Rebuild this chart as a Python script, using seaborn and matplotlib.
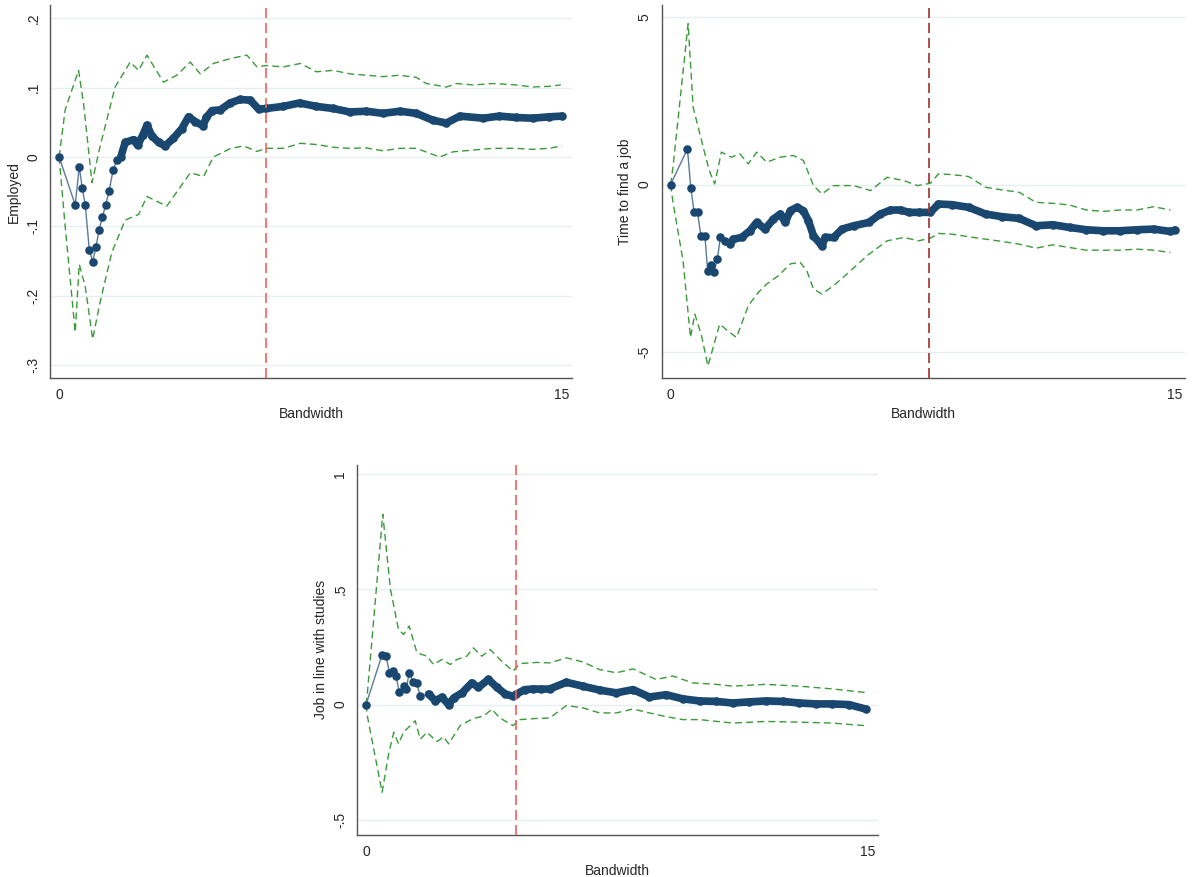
import matplotlib
matplotlib.use("Agg")
import matplotlib.pyplot as plt
import seaborn as sns
import numpy as np

sns.set_style("white")
plt.rcParams['font.family'] = ['Liberation Sans', 'DejaVu Sans']

# ---- Panel 1: Employed ----
p1_x = [0, 0.48, 0.6, 0.69, 0.78, 0.9, 1.0, 1.1, 1.19, 1.29, 1.39, 1.49, 1.61, 1.72, 1.84, 1.97,
        2.22, 2.34, 2.5, 2.62, 2.77, 2.97, 3.16, 3.41, 3.66, 3.86, 4.06, 4.29, 4.39, 4.56, 4.81,
        5.1, 5.4, 5.7, 5.95, 6.18, 6.68, 7.17, 7.67, 8.17, 8.67, 9.16, 9.66, 10.16, 10.65, 11.15,
        11.55, 11.95, 12.65, 13.13, 13.62, 14.12, 14.62, 15.0]
p1_y = [0, -0.069, -0.014, -0.045, -0.069, -0.134, -0.151, -0.13, -0.105, -0.087, -0.069, -0.049,
        -0.019, -0.005, 0.0, 0.021, 0.025, 0.017, 0.032, 0.046, 0.030, 0.021, 0.016, 0.027, 0.041,
        0.058, 0.051, 0.045, 0.057, 0.067, 0.068, 0.078, 0.083, 0.082, 0.069, 0.070, 0.073, 0.078,
        0.073, 0.070, 0.065, 0.066, 0.063, 0.066, 0.063, 0.053, 0.049, 0.059, 0.056, 0.059, 0.057,
        0.056, 0.058, 0.059]
p1_ux = [0, 0.18, 0.58, 0.73, 0.98, 1.22, 1.67, 2.12, 2.37, 2.62, 3.11, 3.51, 3.91, 4.21, 4.6, 5.1,
         5.6, 5.9, 6.18, 6.68, 7.2, 7.67, 8.17, 8.67, 9.16, 9.66, 10.16, 10.65, 10.95, 11.55, 11.85,
         12.35, 12.95, 13.62, 14.12, 14.62, 14.96]
p1_uy = [0, 0.068, 0.125, 0.077, -0.037, 0.015, 0.101, 0.137, 0.125, 0.147, 0.108, 0.118, 0.137,
         0.12, 0.135, 0.142, 0.147, 0.13, 0.132, 0.130, 0.135, 0.123, 0.125, 0.120, 0.118, 0.116,
         0.118, 0.115, 0.106, 0.101, 0.106, 0.104, 0.106, 0.104, 0.101, 0.102, 0.104]
p1_lx = [0, 0.18, 0.48, 0.6, 0.78, 1.0, 1.22, 1.57, 1.97, 2.37, 2.62, 3.21, 3.91, 4.31, 4.6, 5.1,
         5.5, 5.9, 6.18, 6.68, 7.2, 7.67, 8.17, 8.67, 9.16, 9.66, 10.16, 10.65, 11.35, 11.75, 12.35,
         12.95, 13.62, 14.12, 14.62, 15.0]
p1_ly = [0, -0.1, -0.253, -0.155, -0.187, -0.263, -0.21, -0.138, -0.091, -0.083, -0.057, -0.071,
         -0.023, -0.028, 0.0, 0.012, 0.016, 0.008, 0.0125, 0.0125, 0.0197, 0.018, 0.014, 0.0125,
         0.013, 0.009, 0.0125, 0.0125, 0.0, 0.0075, 0.010, 0.0125, 0.0125, 0.011, 0.0125, 0.0163]

# ---- Panel 2: Time to find a job ----
p2_x = [0, 0.5, 0.6, 0.7, 0.8, 0.9, 1.02, 1.1, 1.2, 1.29, 1.39, 1.48, 1.61, 1.76, 1.86, 2.11, 2.36,
        2.56, 2.81, 3.06, 3.26, 3.41, 3.56, 3.76, 3.95, 4.1, 4.25, 4.5, 4.6, 4.85, 5.1, 5.45, 5.9,
        6.24, 6.54, 6.84, 7.09, 7.38, 7.73, 7.97, 8.37, 8.87, 9.37, 9.87, 10.37, 10.87, 11.37,
        11.87, 12.37, 12.87, 13.37, 13.87, 14.37, 14.87, 15.0]
p2_y = [0, 1.07, -0.1, -0.83, -0.83, -1.53, -1.53, -2.57, -2.4, -2.62, -2.23, -1.58, -1.68, -1.78,
        -1.63, -1.58, -1.38, -1.13, -1.33, -1.03, -0.88, -1.13, -0.78, -0.68, -0.78, -1.08, -1.53,
        -1.83, -1.58, -1.58, -1.33, -1.23, -1.13, -0.88, -0.76, -0.76, -0.83, -0.83, -0.83, -0.58,
        -0.6, -0.68, -0.88, -0.96, -1.01, -1.23, -1.2, -1.28, -1.35, -1.38, -1.38, -1.35, -1.33,
        -1.40, -1.36]
p2_ux = [0, 0.07, 0.52, 0.67, 1.02, 1.15, 1.31, 1.51, 1.81, 2.06, 2.31, 2.56, 2.86, 3.26, 3.65, 3.95,
         4.25, 4.5, 4.85, 5.45, 5.95, 6.44, 6.94, 7.34, 7.73, 7.97, 8.37, 8.87, 9.37, 9.87, 10.37,
         10.87, 11.37, 11.87, 12.37, 12.87, 13.37, 13.87, 14.37, 14.87]
p2_uy = [0, 0.52, 4.81, 2.31, 0.92, 0.42, 0.02, 0.97, 0.82, 0.92, 0.62, 0.97, 0.67, 0.82, 0.87, 0.72,
         -0.03, -0.28, -0.03, -0.03, -0.18, 0.22, 0.12, -0.03, 0.04, 0.32, 0.3, 0.24, -0.08, -0.16,
         -0.23, -0.53, -0.56, -0.61, -0.76, -0.8, -0.76, -0.76, -0.66, -0.76]
p2_lx = [0, 0.07, 0.37, 0.59, 0.72, 0.92, 1.11, 1.46, 1.76, 1.96, 2.31, 2.61, 2.86, 3.21, 3.56, 3.85,
         4.05, 4.25, 4.5, 4.85, 5.25, 5.85, 6.44, 6.94, 7.38, 7.73, 7.97, 8.37, 8.87, 9.37, 9.87,
         10.37, 10.87, 11.37, 11.87, 12.37, 12.87, 13.37, 13.87, 14.37, 14.87]
p2_ly = [0, -0.53, -2.28, -4.57, -3.87, -4.52, -5.42, -4.17, -4.42, -4.57, -3.62, -3.22, -2.97, -2.72,
         -2.37, -2.32, -2.57, -3.12, -3.27, -3.02, -2.67, -2.12, -1.68, -1.58, -1.68, -1.6, -1.46,
         -1.48, -1.56, -1.63, -1.7, -1.78, -1.9, -1.8, -1.88, -1.96, -1.96, -1.96, -1.93, -1.96,
         -2.03]

# ---- Panel 3: Job in line with studies ----
p3_x = [0, 0.48, 0.6, 0.7, 0.8, 0.9, 0.99, 1.12, 1.2, 1.29, 1.4, 1.52, 1.62, 1.87, 2.07, 2.27, 2.47,
        2.62, 2.87, 3.16, 3.36, 3.66, 3.91, 4.16, 4.39, 4.49, 4.74, 5.0, 5.24, 5.49, 5.99, 6.48,
        6.98, 7.48, 7.98, 8.47, 8.97, 9.47, 9.97, 10.46, 10.96, 11.46, 11.95, 12.45, 12.95, 13.44,
        13.94, 14.44, 14.93]
p3_y = [0, 0.217, 0.21, 0.138, 0.145, 0.123, 0.054, 0.08, 0.068, 0.138, 0.1, 0.093, 0.036, 0.046,
        0.017, 0.032, 0.0, 0.029, 0.051, 0.094, 0.075, 0.109, 0.075, 0.046, 0.036, 0.045, 0.065,
        0.068, 0.067, 0.068, 0.097, 0.08, 0.063, 0.051, 0.065, 0.033, 0.043, 0.025, 0.016, 0.014,
        0.007, 0.012, 0.016, 0.014, 0.007, 0.003, 0.003, 0.0, -0.019]
p3_ux = [0, 0.04, 0.5, 0.73, 0.97, 1.12, 1.29, 1.52, 1.82, 2.02, 2.27, 2.52, 2.72, 3.01, 3.21, 3.46,
         3.71, 4.0, 4.39, 4.6, 5.1, 5.49, 5.99, 6.48, 6.98, 7.48, 7.98, 8.67, 9.17, 9.77, 10.46,
         10.96, 11.95, 12.95, 13.94, 14.9]
p3_uy = [0, 0.05, 0.826, 0.5, 0.326, 0.304, 0.341, 0.225, 0.21, 0.174, 0.196, 0.174, 0.196, 0.21,
         0.246, 0.21, 0.239, 0.196, 0.145, 0.178, 0.183, 0.181, 0.203, 0.185, 0.152, 0.138, 0.155,
         0.109, 0.124, 0.094, 0.088, 0.080, 0.088, 0.080, 0.068, 0.053]
p3_lx = [0, 0.04, 0.48, 0.68, 0.83, 0.97, 1.12, 1.47, 1.62, 1.82, 2.12, 2.32, 2.47, 2.82, 3.21, 3.51,
         3.76, 4.0, 4.39, 4.6, 5.1, 5.49, 5.99, 6.48, 6.98, 7.48, 7.98, 8.47, 8.97, 9.47, 9.97,
         10.96, 11.95, 12.95, 13.94, 14.9]
p3_ly = [0, -0.05, -0.38, -0.21, -0.12, -0.17, -0.12, -0.07, -0.15, -0.12, -0.16, -0.14, -0.17,
         -0.09, -0.06, -0.05, -0.02, -0.058, -0.091, -0.065, -0.06, -0.058, -0.004, -0.014, -0.036,
         -0.036, -0.019, -0.036, -0.052, -0.065, -0.065, -0.08, -0.073, -0.076, -0.08, -0.091]

cutoffs = [6.18, 7.7, 4.48]
cut_colors = ["#f0625a", "#a0302a", "#f0625a"]
ylabels = ["Employed", "Time to find a job", "Job in line with studies"]
yticks = [[0.2, 0.1, 0, -0.1, -0.2, -0.3], [5, 0, -5], [1, 0.5, 0, -0.5]]
yticklabels = [[".2", ".1", "0", "-.1", "-.2", "-.3"], ["5", "0", "-5"], ["1", ".5", "0", "-.5"]]
ylims = [(-0.319, 0.219), (-5.78, 5.36), (-0.565, 1.04)]

NAVY = "#1a476f"
GREEN = "#3a9a3a"

fig = plt.figure(figsize=(11.92, 8.77), dpi=100)
rects = [[0.042, 0.569, 0.438, 0.425], [0.555, 0.569, 0.439, 0.425], [0.2995, 0.048, 0.437, 0.422]]
panels = [(p1_x, p1_y, p1_ux, p1_uy, p1_lx, p1_ly),
          (p2_x, p2_y, p2_ux, p2_uy, p2_lx, p2_ly),
          (p3_x, p3_y, p3_ux, p3_uy, p3_lx, p3_ly)]

for i, (px, py, ux, uy, lx, ly) in enumerate(panels):
    ax = fig.add_axes(rects[i])
    for t in yticks[i]:
        ax.axhline(t, color="#e6eef0", lw=1, zorder=0)
    sns.lineplot(x=ux, y=uy, ax=ax, color=GREEN, lw=1, linestyle=(0, (5, 3)), sort=False, estimator=None)
    sns.lineplot(x=lx, y=ly, ax=ax, color=GREEN, lw=1, linestyle=(0, (5, 3)), sort=False, estimator=None)
    px_a = np.array(px); py_a = np.array(py)
    sns.lineplot(x=px, y=py, ax=ax, color="#5a7a9a", lw=1, sort=False, estimator=None)
    m = px_a >= 1.8
    ax.plot(px_a[m], py_a[m], color=NAVY, lw=5.5, solid_capstyle="round", solid_joinstyle="round", zorder=3)
    ax.scatter(px, py, s=38, color=NAVY, zorder=4, linewidths=0)
    ax.axvline(cutoffs[i], color=cut_colors[i], lw=1.2, linestyle=(0, (6, 3)), zorder=5)
    ax.set_xlim(-0.27, 15.3)
    ax.set_ylim(*ylims[i])
    ax.set_xticks([0, 15])
    ax.set_xticklabels(["0", "15"], fontsize=10)
    ax.set_yticks(yticks[i])
    ax.set_yticklabels(yticklabels[i], fontsize=10, rotation=90, va="center")
    ax.set_xlabel("Bandwidth", fontsize=10, labelpad=4)
    ax.set_ylabel(ylabels[i], fontsize=10, labelpad=4)
    for s in ["top", "right"]:
        ax.spines[s].set_visible(False)
    for s in ["left", "bottom"]:
        ax.spines[s].set_color("#555555")
        ax.spines[s].set_linewidth(1)
    ax.tick_params(axis="both", which="both", direction="out", length=4, width=1, color="#555555", pad=3)

fig.savefig("out.png", dpi=100, facecolor="white")
